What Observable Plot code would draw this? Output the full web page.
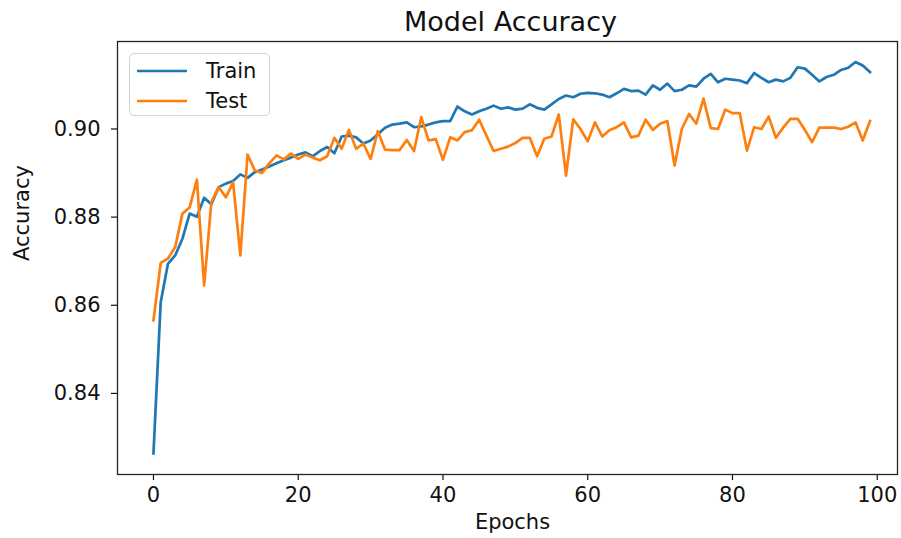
<!DOCTYPE html>
<html>
<head>
<meta charset="utf-8">
<script src="https://cdn.jsdelivr.net/npm/d3@7"></script>
<script src="https://cdn.jsdelivr.net/npm/@observablehq/plot@0.6"></script>
<style>
  html, body { margin: 0; padding: 0; background: #fff; }
  #wrap { position: relative; width: 901px; height: 538px; }
  .legend { position: absolute; left: 129px; top: 53px; width: 141px; height: 63px;
    border: 1px solid #d3d3d3; border-radius: 5px; background: rgba(255,255,255,0.8);
    font-family: 'DejaVu Sans', sans-serif; font-size: 21px; color: #111; box-sizing: border-box; }
  .legend .row { position: absolute; left: 6px; height: 30px; display: flex; align-items: center; }
  .legend .row svg { margin-right: 18px; }
</style>
</head>
<body>
<div id="wrap"></div>
<script>
// ---- data ----
const seriesNames = ["Train", "Test"];
const seriesColors = ["#1f77b4", "#ff7f0e"];
const xTicks = [0, 20, 40, 60, 80, 100];
const yTicks = [0.84, 0.86, 0.88, 0.90];

const train = [
  0.8264, 0.8607, 0.8694, 0.8713, 0.8751, 0.8808, 0.8801, 0.8844, 0.8829, 0.8868,
  0.8876, 0.8882, 0.8897, 0.8889, 0.8902, 0.8908, 0.8915, 0.8922, 0.8929, 0.8935,
  0.8942, 0.8947, 0.8938, 0.8950, 0.8959, 0.8945, 0.8983, 0.8985, 0.8981, 0.8967,
  0.8974, 0.8988, 0.9003, 0.9010, 0.9012, 0.9015, 0.9004, 0.9006, 0.9010, 0.9015,
  0.9018, 0.9018, 0.9051, 0.9040, 0.9033, 0.9040, 0.9046, 0.9053, 0.9046, 0.9049,
  0.9044, 0.9046, 0.9056, 0.9048, 0.9044, 0.9056, 0.9068, 0.9076, 0.9072, 0.9080,
  0.9082, 0.9081, 0.9078, 0.9072, 0.9081, 0.9091, 0.9086, 0.9087, 0.9078, 0.9099,
  0.9089, 0.9103, 0.9086, 0.9089, 0.9099, 0.9096, 0.9114, 0.9125, 0.9106, 0.9114,
  0.9112, 0.9110, 0.9104, 0.9127, 0.9116, 0.9106, 0.9112, 0.9108, 0.9116, 0.9140,
  0.9137, 0.9123, 0.9108, 0.9118, 0.9123, 0.9134, 0.9139, 0.9152, 0.9144, 0.9129
];

const test = [
  0.8566, 0.8696, 0.8706, 0.8732, 0.8808, 0.8822, 0.8885, 0.8645, 0.8834, 0.8868,
  0.8845, 0.8879, 0.8713, 0.8942, 0.8906, 0.8900, 0.8922, 0.8940, 0.8931, 0.8944,
  0.8932, 0.8942, 0.8935, 0.8929, 0.8938, 0.8980, 0.8955, 0.8998, 0.8955, 0.8967,
  0.8932, 0.8995, 0.8953, 0.8952, 0.8952, 0.8975, 0.8950, 0.9027, 0.8974, 0.8977,
  0.8930, 0.8981, 0.8974, 0.8993, 0.8997, 0.9021, 0.8985, 0.8950, 0.8955, 0.8960,
  0.8968, 0.8980, 0.8980, 0.8938, 0.8978, 0.8983, 0.9033, 0.8894, 0.9022, 0.9000,
  0.8972, 0.9015, 0.8983, 0.8997, 0.9004, 0.9015, 0.8981, 0.8985, 0.9021, 0.8998,
  0.9012, 0.9018, 0.8917, 0.9000, 0.9034, 0.9012, 0.9069, 0.9002, 0.9000, 0.9044,
  0.9036, 0.9036, 0.8951, 0.9004, 0.9000, 0.9028, 0.8980, 0.9003, 0.9023, 0.9023,
  0.8998, 0.8970, 0.9003, 0.9003, 0.9003, 0.9000, 0.9005, 0.9015, 0.8974, 0.9018
];

const titleText = "Model Accuracy";
const xLabel = "Epochs";
const yLabel = "Accuracy";

// ---- build table ----
const rows = [];
train.forEach((v, i) => rows.push({epoch: i, acc: v, series: "Train"}));
test.forEach((v, i) => rows.push({epoch: i, acc: v, series: "Test"}));

const font = "'DejaVu Sans', sans-serif";

const chart = Plot.plot({
  width: 901,
  height: 538,
  marginLeft: 117,
  marginRight: 4,
  marginTop: 41,
  marginBottom: 64,
  style: {fontFamily: font, fontSize: "21px", color: "#111", background: "#fff", overflow: "visible"},
  x: {domain: [-4.97, 102.8], label: null},
  y: {domain: [0.8216, 0.91985], label: null},
  color: {domain: seriesNames, range: seriesColors},
  marks: [
    Plot.axisX({ticks: xTicks, tickSize: 6, tickPadding: 7, tickFormat: d => String(d), label: null, stroke: "#111", strokeWidth: 1.2}),
    Plot.axisY({ticks: yTicks, tickSize: 6, tickPadding: 11, tickFormat: d3.format(".2f"), label: null, stroke: "#111", strokeWidth: 1.2}),
    Plot.line(rows, {x: "epoch", y: "acc", z: "series", stroke: "series", strokeWidth: 2.7, strokeLinejoin: "round", strokeLinecap: "square"}),
    Plot.frame({stroke: "#222", strokeWidth: 1.3}),
    Plot.text([titleText], {text: d => d, frameAnchor: "top", dx: 3, dy: -19, fontSize: 27, fill: "#111", lineAnchor: "middle"}),
    Plot.text([xLabel], {text: d => d, frameAnchor: "bottom", dx: 5, dy: 48, fontSize: 21, fill: "#111", lineAnchor: "middle"}),
    Plot.text([yLabel], {text: d => d, frameAnchor: "left", dx: -95, dy: 3, rotate: -90, fontSize: 21, fill: "#111", lineAnchor: "middle"})
  ]
});

const wrap = document.getElementById("wrap");
wrap.appendChild(chart);

// ---- legend ----
const legend = document.createElement("div");
legend.className = "legend";
seriesNames.forEach((name, i) => {
  const row = document.createElement("div");
  row.className = "row";
  row.style.top = (2 + i * 30) + "px";
  row.innerHTML = `<svg width="52" height="6"><line x1="1" y1="3" x2="51" y2="3" stroke="${seriesColors[i]}" stroke-width="2.7"/></svg><span>${name}</span>`;
  legend.appendChild(row);
});
wrap.appendChild(legend);
</script>
</body>
</html>
